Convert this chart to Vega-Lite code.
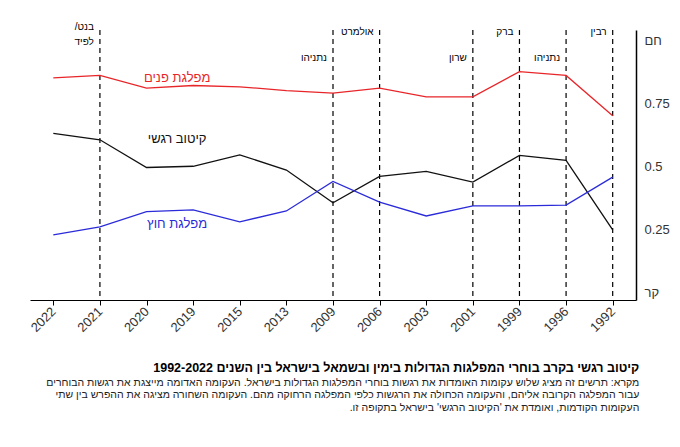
{
  "$schema": "https://vega.github.io/schema/vega-lite/v6.json",
  "width": 606,
  "height": 270,
  "autosize": "none",
  "padding": {"left": 30, "top": 30, "right": 44, "bottom": 147},
  "background": "white",
  "config": {"view": {"stroke": null}, "font": "Liberation Sans"},
  "title": {
    "text": "\u200fקיטוב רגשי בקרב בוחרי המפלגות הגדולות בימין ובשמאל בישראל בין השנים 1992-2022\u200f",
    "subtitle": [
      "\u200fמקרא: תרשים זה מציג שלוש עקומות האומדות את רגשות בוחרי המפלגות הגדולות בישראל. העקומה האדומה מייצגת את רגשות הבוחרים\u200f",
      "\u200fעבור המפלגה הקרובה אליהם, והעקומה הכחולה את הרגשות כלפי המפלגה הרחוקה מהם. העקומה השחורה מציגה את ההפרש בין שתי\u200f",
      "\u200fהעקומות הקודמות, ואומדת את 'הקיטוב הרגשי' בישראל בתקופה זו.\u200f"
    ],
    "orient": "bottom",
    "anchor": "end",
    "align": "right",
    "dx": -30,
    "offset": 28,
    "fontSize": 12.5,
    "fontWeight": "bold",
    "subtitleFontSize": 10.5,
    "subtitleColor": "#222",
    "subtitlePadding": 3,
    "color": "#000"
  },
  "datasets": {
    "series": [
      {"year": "2022", "series": "red", "v": 0.85},
      {"year": "2021", "series": "red", "v": 0.86},
      {"year": "2020", "series": "red", "v": 0.81},
      {"year": "2019", "series": "red", "v": 0.82},
      {"year": "2015", "series": "red", "v": 0.815},
      {"year": "2013", "series": "red", "v": 0.80},
      {"year": "2009", "series": "red", "v": 0.79},
      {"year": "2006", "series": "red", "v": 0.81},
      {"year": "2003", "series": "red", "v": 0.775},
      {"year": "2001", "series": "red", "v": 0.775},
      {"year": "1999", "series": "red", "v": 0.875},
      {"year": "1996", "series": "red", "v": 0.86},
      {"year": "1992", "series": "red", "v": 0.70},
      {"year": "2022", "series": "black", "v": 0.63},
      {"year": "2021", "series": "black", "v": 0.605},
      {"year": "2020", "series": "black", "v": 0.495},
      {"year": "2019", "series": "black", "v": 0.50},
      {"year": "2015", "series": "black", "v": 0.545},
      {"year": "2013", "series": "black", "v": 0.485},
      {"year": "2009", "series": "black", "v": 0.355},
      {"year": "2006", "series": "black", "v": 0.46},
      {"year": "2003", "series": "black", "v": 0.48},
      {"year": "2001", "series": "black", "v": 0.437},
      {"year": "1999", "series": "black", "v": 0.543},
      {"year": "1996", "series": "black", "v": 0.523},
      {"year": "1992", "series": "black", "v": 0.248},
      {"year": "2022", "series": "blue", "v": 0.228},
      {"year": "2021", "series": "blue", "v": 0.26},
      {"year": "2020", "series": "blue", "v": 0.32},
      {"year": "2019", "series": "blue", "v": 0.327},
      {"year": "2015", "series": "blue", "v": 0.28},
      {"year": "2013", "series": "blue", "v": 0.323},
      {"year": "2009", "series": "blue", "v": 0.44},
      {"year": "2006", "series": "blue", "v": 0.358},
      {"year": "2003", "series": "blue", "v": 0.303},
      {"year": "2001", "series": "blue", "v": 0.343},
      {"year": "1999", "series": "blue", "v": 0.343},
      {"year": "1996", "series": "blue", "v": 0.346},
      {"year": "1992", "series": "blue", "v": 0.457}
    ],
    "pms": [
      {"year": "2021", "l1": "\u200fבנט/\u200f", "l2": "לפיד", "v": 1.02},
      {"year": "2009", "l1": "", "l2": "נתניהו", "v": 0.955},
      {"year": "2006", "l1": "אולמרט", "l2": "", "v": 1.0},
      {"year": "2001", "l1": "", "l2": "שרון", "v": 0.955},
      {"year": "1999", "l1": "ברק", "l2": "", "v": 1.0},
      {"year": "1996", "l1": "", "l2": "נתניהו", "v": 0.955},
      {"year": "1992", "l1": "רבין", "l2": "", "v": 1.0}
    ],
    "labels": [
      {"year": "2019", "series": "red", "v": 0.85, "t": "מפלגת פנים"},
      {"year": "2019", "series": "black", "v": 0.61, "t": "קיטוב רגשי"},
      {"year": "2019", "series": "blue", "v": 0.27, "t": "מפלגת חוץ"}
    ]
  },
  "layer": [
    {
      "data": {"name": "pms"},
      "mark": {"type": "rule", "strokeDash": [5, 4], "color": "#000", "strokeWidth": 1.2},
      "encoding": {
        "x": {"field": "year", "type": "ordinal"}
      }
    },
    {
      "data": {"name": "pms"},
      "mark": {"type": "text", "align": "right", "dx": -6, "fontSize": 10, "color": "#000", "dy": -8},
      "encoding": {
        "x": {"field": "year", "type": "ordinal"},
        "y": {"field": "v", "type": "quantitative"},
        "text": {"field": "l1"}
      }
    },
    {
      "data": {"name": "pms"},
      "mark": {"type": "text", "align": "right", "dx": -6, "fontSize": 10, "color": "#000", "dy": 7},
      "encoding": {
        "x": {"field": "year", "type": "ordinal"},
        "y": {"field": "v", "type": "quantitative"},
        "text": {"field": "l2"}
      }
    },
    {
      "data": {"name": "series"},
      "mark": {"type": "line", "strokeWidth": 1.3},
      "encoding": {
        "x": {
          "field": "year", "type": "ordinal",
          "scale": {"type": "point", "domain": ["2022","2021","2020","2019","2015","2013","2009","2006","2003","2001","1999","1996","1992"], "padding": 0.5},
          "axis": {"title": null, "labelAngle": -45, "labelFontSize": 13, "labelColor": "#333", "domainColor": "#000", "tickColor": "#000", "tickSize": 5, "labelPadding": 4}
        },
        "y": {
          "field": "v", "type": "quantitative",
          "scale": {"domain": [-0.03, 1.04], "nice": false, "zero": false},
          "axis": {"orient": "right", "title": null, "grid": false, "values": [0, 0.25, 0.5, 0.75, 1], "labelExpr": "datum.value == 0 ? 'קר' : datum.value == 1 ? 'חם' : datum.value", "labelFontSize": 13, "labelColor": "#333", "domainColor": "#000", "domainWidth": 1.5, "ticks": false, "labelPadding": 8}
        },
        "color": {"field": "series", "type": "nominal", "scale": {"domain": ["red", "black", "blue"], "range": ["#e8262a", "#111111", "#2b2bd9"]}, "legend": null}
      }
    },
    {
      "data": {"name": "labels"},
      "mark": {"type": "text", "fontSize": 13, "dx": -16},
      "encoding": {
        "x": {"field": "year", "type": "ordinal"},
        "y": {"field": "v", "type": "quantitative"},
        "text": {"field": "t"},
        "color": {"field": "series", "type": "nominal", "legend": null}
      }
    }
  ]
}
